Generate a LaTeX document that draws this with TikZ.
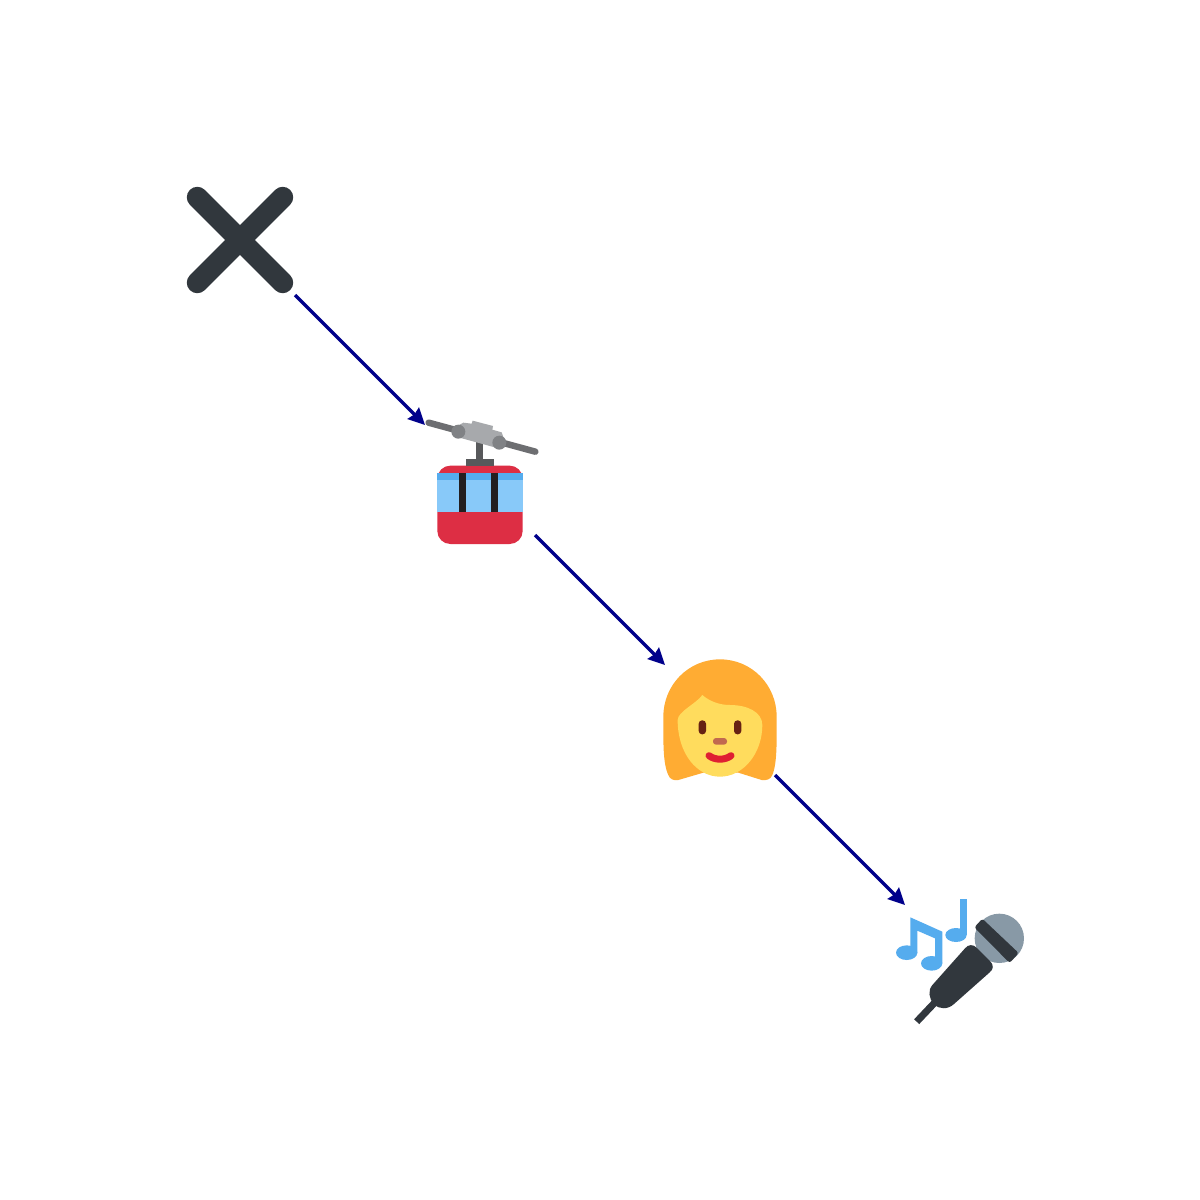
\documentclass[tikz,border=0pt]{standalone}
\usetikzlibrary{arrows.meta}
\definecolor{xdark}{HTML}{31373D}
\definecolor{arrowblue}{HTML}{00008B}
\definecolor{cabred}{HTML}{DD2E44}
\definecolor{skylight}{HTML}{88C9F9}
\definecolor{skyblue}{HTML}{55ACEE}
\definecolor{bardark}{HTML}{231F20}
\definecolor{postgray}{HTML}{58595B}
\definecolor{cablegray}{HTML}{6D6E71}
\definecolor{clampgray}{HTML}{A7A9AC}
\definecolor{wheelgray}{HTML}{808285}
\definecolor{hairorange}{HTML}{FFAC33}
\definecolor{faceyellow}{HTML}{FFDC5D}
\definecolor{eyebrown}{HTML}{662113}
\definecolor{nosebrown}{HTML}{C1694F}
\definecolor{mouthred}{HTML}{DF1F32}
\definecolor{micgray}{HTML}{8899A6}
\tikzset{
  iconbox/.style={rectangle,minimum size=110pt,inner sep=0pt,outer sep=0pt},
  flowarrow/.style={draw=arrowblue,line width=3.2pt,-{Stealth[length=16.5pt,width=16pt,inset=1.5pt,fill=arrowblue]}},
  zoomed/.style={x=0.33333pt,y=-0.33333pt}
}
\begin{document}
\begin{tikzpicture}[x=1pt,y=-1pt]
\fill[white] (0,0) rectangle (1200,1200);
\useasboundingbox (0,0) rectangle (1200,1200);
\node[iconbox] (cross) at (240,240) {};
\node[iconbox] (car) at (480,480) {};
\node[iconbox] (woman) at (720,720) {};
\node[iconbox] (mic) at (960,960) {};
% cross
\draw[xdark,line width=21pt,line cap=round] (197.3,197.3) -- (282.7,282.7);
\draw[xdark,line width=21pt,line cap=round] (282.7,197.3) -- (197.3,282.7);
% aerial tramway
\begin{scope}[shift={(400,400)},zoomed]
\fill[cabred,rounded corners=13pt] (112,197) rectangle (368,432);
\fill[skyblue] (112,219) rectangle (368,240);
\fill[skylight] (112,240) rectangle (368,336);
\fill[bardark] (176,219) rectangle (197,336);
\fill[bardark] (272,219) rectangle (293,336);
\fill[postgray] (229,115) rectangle (250,176);
\fill[postgray] (197,176) rectangle (283,197);
\draw[cablegray,line width=6.5pt,line cap=round] (86,68) -- (406,155);
\fill[clampgray] (172,78) -- (190,68) -- (215,71) -- (218,62) -- (279,78) -- (277,89) -- (305,97) -- (315,125) -- (295,145) -- (175,112) -- cycle;
\fill[wheelgray] (175,95) circle[radius=21];
\fill[wheelgray] (298,128) circle[radius=21];
\end{scope}
% woman
\begin{scope}[shift={(640,640)},zoomed]
\fill[hairorange] (240,58) .. controls (145,58) and (70,135) .. (70,230)
  .. controls (70,300) and (68,370) .. (85,405)
  .. controls (90,418) and (100,422) .. (115,420)
  -- (190,398) -- (240,400) -- (295,398) -- (365,420)
  .. controls (380,422) and (392,418) .. (397,405)
  .. controls (412,370) and (410,300) .. (410,230)
  .. controls (410,135) and (335,58) .. (240,58) -- cycle;
\fill[faceyellow] (113,240) .. controls (113,340) and (170,410) .. (240,410)
  .. controls (310,410) and (367,340) .. (367,255)
  .. controls (367,215) and (320,195) .. (270,195)
  .. controls (240,195) and (210,185) .. (187,165)
  .. controls (170,190) and (113,215) .. (113,240) -- cycle;
\fill[eyebrown,rounded corners=3.4pt] (176,241) rectangle (198,283);
\fill[eyebrown,rounded corners=3.4pt] (282,241) rectangle (304,283);
\fill[nosebrown,rounded corners=3pt] (219,294) rectangle (261,314);
\draw[mouthred,line width=7pt,line cap=round] (207,347) .. controls (225,361) and (255,361) .. (273,347);
\end{scope}
% microphone with notes
\begin{scope}[shift={(880,880)},zoomed]
\fill[micgray] (358,175) circle[radius=74];
\fill[xdark,rounded corners=2.5pt] (283,142) -- (307,116) -- (416,219) -- (389,249) -- cycle;
\draw[xdark,line width=7pt] (165,367) -- (110,425);
\fill[xdark] (255,205) .. controls (265,192) and (280,193) .. (290,203)
  -- (330,243) .. controls (342,255) and (341,268) .. (328,278)
  -- (222,372) .. controls (205,388) and (178,390) .. (162,372)
  .. controls (146,356) and (143,330) .. (158,314) -- cycle;
\fill[skyblue] (240,58) -- (262,58) -- (262,165) -- (240,165) -- cycle;
\fill[skyblue] (228,165) ellipse[x radius=32,y radius=21];
\fill[skyblue] (91,112) -- (187,155) -- (187,250) -- (165,250) -- (165,175) -- (112,152) -- (112,220) -- (91,220) -- cycle;
\fill[skyblue] (80,218) ellipse[x radius=32,y radius=22];
\fill[skyblue] (155,250) ellipse[x radius=32,y radius=22];
\end{scope}
% connectors
\draw[flowarrow] (cross.south east) -- (car.north west);
\draw[flowarrow] (car.south east) -- (woman.north west);
\draw[flowarrow] (woman.south east) -- (mic.north west);
\end{tikzpicture}
\end{document}
